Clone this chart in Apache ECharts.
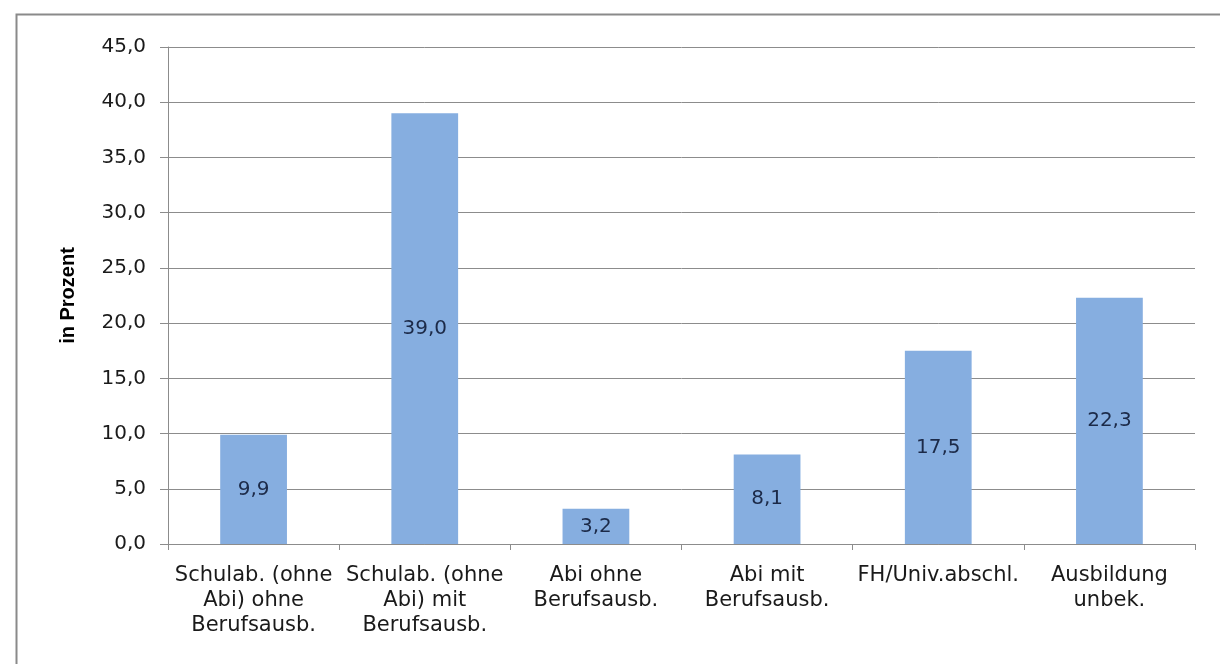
<!DOCTYPE html>
<html><head><meta charset="utf-8">
<script src="https://cdn.jsdelivr.net/npm/echarts@6/dist/echarts.min.js"></script>
<style>html,body{margin:0;padding:0;background:#fff}#c{width:1220px;height:664px}</style>
</head><body><div id="c"></div>
<script>
const categories = ['Schulab. (ohne\nAbi) ohne\nBerufsausb.', 'Schulab. (ohne\nAbi) mit\nBerufsausb.', 'Abi ohne\nBerufsausb.', 'Abi mit\nBerufsausb.', 'FH/Univ.abschl.', 'Ausbildung\nunbek.'];
const values = [9.9, 39.0, 3.2, 8.1, 17.5, 22.3];
const yAxisTitle = 'in Prozent';
const fmt = v => v.toFixed(1).replace('.', ',');

const chart = echarts.init(document.getElementById('c'), null, {renderer: 'canvas'});
chart.setOption({
  animation: false,
  backgroundColor: '#fff',
  graphic: [{
    type: 'rect', left: 14, top: 12,
    shape: {width: 1230, height: 680},
    style: {fill: 'none', stroke: '#8a8a8a', lineWidth: 2},
    silent: true
  }],
  grid: {left: 168, right: 25, top: 47, bottom: 120, containLabel: false},
  xAxis: {
    type: 'category', data: categories,
    axisLine: {lineStyle: {color: '#8c8c8c', width: 1}},
    axisTick: {show: true, length: 6, lineStyle: {color: '#8c8c8c'}},
    axisLabel: {color: '#1a1a1a', fontFamily: 'DejaVu Sans', fontSize: 21, lineHeight: 25, margin: 19, interval: 0}
  },
  yAxis: {
    type: 'value', min: 0, max: 45, interval: 5,
    name: yAxisTitle, nameLocation: 'middle', nameGap: 90, nameRotate: 90,
    nameTextStyle: {fontFamily: "'Liberation Sans Narrow', 'Liberation Sans'", fontWeight: 'bold', fontSize: 20, color: '#000'},
    axisLine: {show: true, lineStyle: {color: '#8c8c8c'}},
    axisTick: {show: true, length: 8, lineStyle: {color: '#8c8c8c'}},
    splitLine: {lineStyle: {color: '#8c8c8c', width: 1}},
    axisLabel: {formatter: fmt, color: '#1a1a1a', fontFamily: 'DejaVu Sans', fontSize: 20, margin: 22}
  },
  series: [{
    type: 'bar', data: values, barWidth: '39%',
    itemStyle: {color: '#86aee0'},
    label: {show: true, position: 'inside', formatter: p => fmt(p.value), color: '#1c2a48', fontFamily: 'DejaVu Sans', fontSize: 20}
  }]
});
</script></body></html>
